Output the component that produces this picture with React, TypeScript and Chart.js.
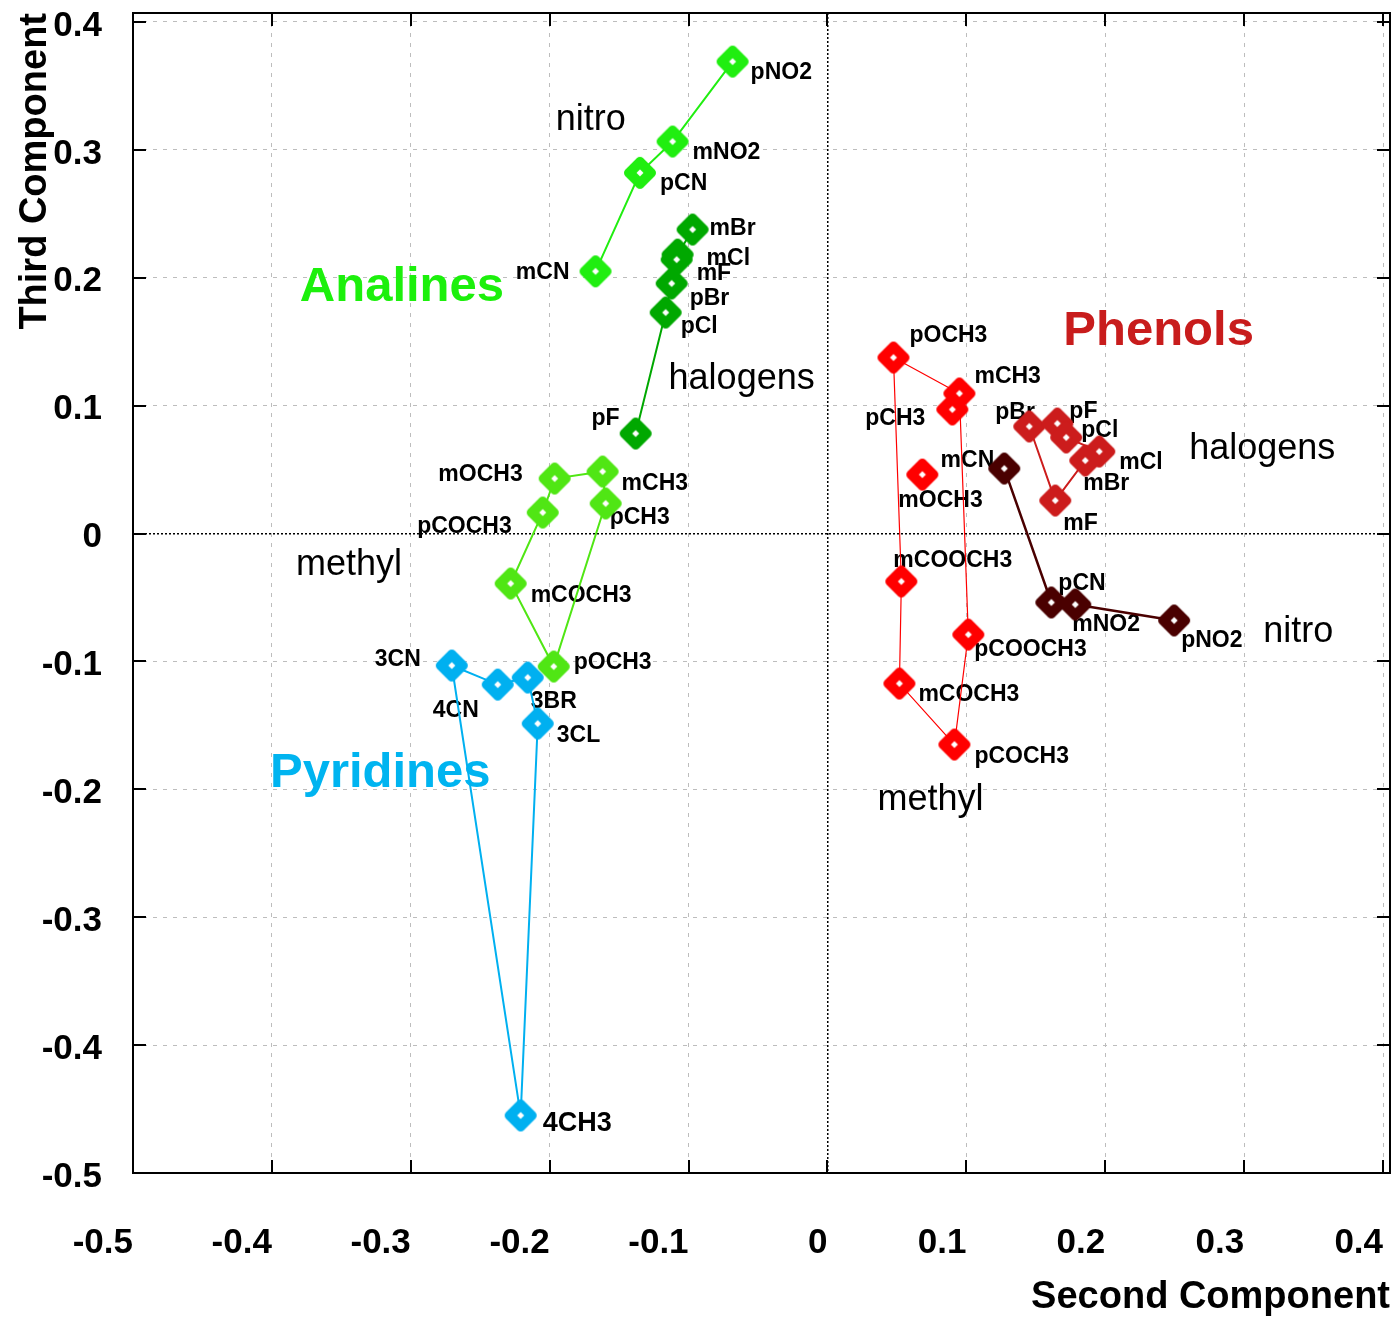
import { useEffect, useRef } from 'react';
import { Chart, registerables } from 'chart.js';

Chart.register(...registerables);

// ---------- axes ----------
const xTickValues = [-0.5, -0.4, -0.3, -0.2, -0.1, 0, 0.1, 0.2, 0.3, 0.4];
const xTickLabels = ['-0.5', '-0.4', '-0.3', '-0.2', '-0.1', '0', '0.1', '0.2', '0.3', '0.4'];
const yTickValues = [-0.5, -0.4, -0.3, -0.2, -0.1, 0, 0.1, 0.2, 0.3, 0.4];
const yTickLabels = ['-0.5', '-0.4', '-0.3', '-0.2', '-0.1', '0', '0.1', '0.2', '0.3', '0.4'];
const xTitle = 'Second Component';
const yTitle = 'Third Component';

// ---------- Anilines: nitro ----------
const anNitroNames = ['pNO2', 'mNO2', 'pCN', 'mCN'];
const anNitroX = [-0.0683, -0.1115, -0.135, -0.167];
const anNitroY = [0.369, 0.3065, 0.282, 0.205];
const anNitroPath = ['mCN', 'pCN', 'mNO2', 'pNO2'];

// ---------- Anilines: halogens ----------
const anHaloNames = ['mBr', 'mCl', 'mF', 'pBr', 'pCl', 'pF'];
const anHaloX = [-0.0971, -0.1079, -0.1086, -0.1122, -0.1165, -0.1381];
const anHaloY = [0.2377, 0.2181, 0.2142, 0.1955, 0.1728, 0.0782];
const anHaloPath = ['pF', 'pCl', 'pBr', 'mF', 'mCl', 'mBr'];

// ---------- Anilines: methyl ----------
const anMethylNames = ['mOCH3', 'mCH3', 'pCOCH3', 'pCH3', 'mCOCH3', 'pOCH3'];
const anMethylX = [-0.1964, -0.1619, -0.205, -0.1597, -0.2281, -0.1971];
const anMethylY = [0.043, 0.0485, 0.0164, 0.0235, -0.0391, -0.104];
const anMethylPath = ['pCH3', 'mCH3', 'mOCH3', 'pCOCH3', 'mCOCH3', 'pOCH3', 'pCH3'];

// ---------- Pyridines ----------
const pyrNames = ['3CN', '4CN', '3BR', '3CL', '4CH3'];
const pyrX = [-0.2705, -0.2374, -0.2158, -0.2086, -0.2209];
const pyrY = [-0.1032, -0.1181, -0.1126, -0.1486, -0.455];
const pyrPath = ['3CN', '4CN', '3BR', '3CL', '4CH3', '3CN'];

// ---------- Phenols: methyl ----------
const phMethylNames = ['pOCH3', 'mCH3', 'pCH3', 'mOCH3', 'mCOOCH3', 'pCOOCH3', 'mCOCH3', 'pCOCH3'];
const phMethylX = [0.0475, 0.095, 0.0899, 0.0683, 0.0532, 0.1014, 0.0518, 0.0914];
const phMethylY = [0.1376, 0.1095, 0.097, 0.0461, -0.0375, -0.079, -0.1173, -0.165];
const phMethylPath = ['pCH3', 'mCH3', 'pCOOCH3', 'pCOCH3', 'mCOCH3', 'mCOOCH3', 'pOCH3', 'mCH3'];

// ---------- Phenols: halogens ----------
const phHaloNames = ['pBr', 'pF', 'pCl', 'mCl', 'mBr', 'mF'];
const phHaloX = [0.1453, 0.1655, 0.1719, 0.1957, 0.1856, 0.164];
const phHaloY = [0.0837, 0.086, 0.0751, 0.0641, 0.0571, 0.0258];
const phHaloPath = ['mCl', 'pCl', 'pF', 'pBr', 'mF', 'mBr', 'mCl'];

// ---------- Phenols: nitro ----------
const phNitroNames = ['mCN', 'pCN', 'mNO2', 'pNO2'];
const phNitroX = [0.1273, 0.1612, 0.1784, 0.2496];
const phNitroY = [0.0508, -0.0539, -0.0555, -0.068];
const phNitroPath = ['mCN', 'pCN', 'mNO2', 'pNO2'];

// ---------- annotations (text placed at data coordinates) ----------
const noteTexts = ['Analines', 'nitro', 'halogens', 'methyl', 'Pyridines', 'Phenols', 'halogens', 'nitro', 'methyl'];
const noteX = [-0.3799, -0.1957, -0.1144, -0.3827, -0.4014, 0.1698, 0.2604, 0.3137, 0.036];
const noteY = [0.1923, 0.3229, 0.1204, -0.025, -0.1876, 0.1579, 0.0657, -0.0774, -0.2088];

// ---------- styles ----------
const FONT = '"Liberation Sans", Arial, Helvetica, sans-serif';
const noteStyles = [
  { font: `bold 49px ${FONT}`, color: '#1cf00c' },
  { font: `36px ${FONT}`, color: '#000' },
  { font: `36px ${FONT}`, color: '#000' },
  { font: `36px ${FONT}`, color: '#000' },
  { font: `bold 49px ${FONT}`, color: '#00b4f0' },
  { font: `bold 49px ${FONT}`, color: '#c81c1c' },
  { font: `36px ${FONT}`, color: '#000' },
  { font: `36px ${FONT}`, color: '#000' },
  { font: `36px ${FONT}`, color: '#000' },
];

type Off = [number, number, 'left' | 'right'];

const groups = [
  {
    names: anNitroNames, xs: anNitroX, ys: anNitroY, path: anNitroPath,
    color: '#20ee10', lineWidth: 2,
    offsets: [[18, 11, 'left'], [20, 11, 'left'], [20, 11, 'left'], [-26, 1, 'right']] as Off[],
  },
  {
    names: anHaloNames, xs: anHaloX, ys: anHaloY, path: anHaloPath,
    color: '#00a800', lineWidth: 2,
    offsets: [[17, -1, 'left'], [29, 4, 'left'], [20, 14, 'left'], [18, 15, 'left'], [15, 14, 'left'], [-16, -15, 'right']] as Off[],
  },
  {
    names: anMethylNames, xs: anMethylX, ys: anMethylY, path: anMethylPath,
    color: '#50e614', lineWidth: 2,
    offsets: [[-32, -4, 'right'], [19, 12, 'left'], [-31, 14, 'right'], [4, 14, 'left'], [20, 12, 'left'], [20, -4, 'left']] as Off[],
  },
  {
    names: pyrNames, xs: pyrX, ys: pyrY, path: pyrPath,
    color: '#00b0f0', lineWidth: 2,
    offsets: [[-31, -6, 'right'], [-19, 26, 'right'], [3, 24, 'left'], [19, 12, 'left'], [22, 8, 'left']] as Off[],
  },
  {
    names: phMethylNames, xs: phMethylX, ys: phMethylY, path: phMethylPath,
    color: '#ff0000', lineWidth: 1.2,
    offsets: [[16, -22, 'left'], [15, -17, 'left'], [-27, 9, 'right'], [-24, 26, 'left'], [-8, -21, 'left'], [6, 15, 'left'], [19, 11, 'left'], [20, 12, 'left']] as Off[],
  },
  {
    names: phHaloNames, xs: phHaloX, ys: phHaloY, path: phHaloPath,
    color: '#cc1c1c', lineWidth: 2,
    offsets: [[-34, -14, 'left'], [12, -12, 'left'], [15, -7, 'left'], [20, 11, 'left'], [-2, 23, 'left'], [8, 23, 'left']] as Off[],
  },
  {
    names: phNitroNames, xs: phNitroX, ys: phNitroY, path: phNitroPath,
    color: '#4a0000', lineWidth: 2.5,
    offsets: [[-10, -8, 'right'], [7, -19, 'left'], [-3, 20, 'left'], [7, 20, 'left']] as Off[],
  },
];

const bigLabels = ['4CH3'];

function makeMarker(color: string): HTMLCanvasElement {
  const c = document.createElement('canvas');
  c.width = 38;
  c.height = 38;
  const g = c.getContext('2d')!;
  g.translate(19, 19);
  const r = 11.5;
  g.beginPath();
  g.moveTo(0, -r);
  g.lineTo(r, 0);
  g.lineTo(0, r);
  g.lineTo(-r, 0);
  g.closePath();
  g.fillStyle = color;
  g.fill();
  g.lineWidth = 9;
  g.lineJoin = 'round';
  g.strokeStyle = color;
  g.stroke();
  const s = 3.5;
  g.beginPath();
  g.moveTo(0, -s);
  g.lineTo(s, 0);
  g.lineTo(0, s);
  g.lineTo(-s, 0);
  g.closePath();
  g.fillStyle = '#ffffff';
  g.fill();
  return c;
}

const zeroPad = (s: any) => {
  s.paddingTop = 0;
  s.paddingBottom = 0;
  s.paddingLeft = 0;
  s.paddingRight = 0;
};

export default function App() {
  const ref = useRef<HTMLCanvasElement | null>(null);

  useEffect(() => {
    document.body.style.margin = '0';
    const canvas = ref.current;
    if (!canvas) return;

    const datasets: any[] = [];
    groups.forEach((gr) => {
      const lineData = gr.path.map((n) => {
        const i = gr.names.indexOf(n);
        return { x: gr.xs[i], y: gr.ys[i] };
      });
      datasets.push({
        data: lineData,
        showLine: true,
        borderColor: gr.color,
        borderWidth: gr.lineWidth,
        pointRadius: 0,
        pointHoverRadius: 0,
        pointBorderWidth: 0,
        fill: false,
        clip: false,
        order: 10,
      });
    });
    groups.forEach((gr) => {
      datasets.push({
        data: gr.names.map((_, i) => ({ x: gr.xs[i], y: gr.ys[i] })),
        showLine: false,
        pointStyle: makeMarker(gr.color),
        pointRadius: 1,
        pointHoverRadius: 1,
        pointBorderWidth: 0,
        borderWidth: 0,
        borderColor: gr.color,
        backgroundColor: gr.color,
        clip: false,
        order: 0,
      });
    });

    const textPlugin = {
      id: 'texts',
      beforeDatasetsDraw(chart: any) {
        const ctx = chart.ctx;
        const xs = chart.scales.x;
        const ys = chart.scales.y;
        ctx.save();
        ctx.textBaseline = 'middle';
        noteTexts.forEach((t, i) => {
          ctx.font = noteStyles[i].font;
          ctx.fillStyle = noteStyles[i].color;
          ctx.textAlign = 'left';
          ctx.fillText(t, xs.getPixelForValue(noteX[i]), ys.getPixelForValue(noteY[i]));
        });
        ctx.fillStyle = '#000';
        groups.forEach((gr) => {
          gr.names.forEach((n, i) => {
            const px = xs.getPixelForValue(gr.xs[i]);
            const py = ys.getPixelForValue(gr.ys[i]);
            const [dx, dy, al] = gr.offsets[i];
            ctx.font = bigLabels.includes(n) ? `bold 27px ${FONT}` : `bold 23px ${FONT}`;
            ctx.textAlign = al;
            ctx.fillText(n, px + dx, py + dy);
          });
        });
        ctx.restore();
      },
    };

    const framePlugin = {
      id: 'frame',
      afterDraw(chart: any) {
        const ctx = chart.ctx;
        const { left, right, top, bottom } = chart.chartArea;
        const xs = chart.scales.x;
        const ys = chart.scales.y;
        ctx.save();
        ctx.strokeStyle = '#000';
        ctx.lineWidth = 2;
        ctx.beginPath();
        xTickValues.forEach((v) => {
          const p = Math.round(xs.getPixelForValue(v));
          ctx.moveTo(p, bottom);
          ctx.lineTo(p, bottom - 13);
          ctx.moveTo(p, top);
          ctx.lineTo(p, top + 13);
        });
        yTickValues.forEach((v) => {
          const p = Math.round(ys.getPixelForValue(v));
          ctx.moveTo(left, p);
          ctx.lineTo(left + 13, p);
          ctx.moveTo(right, p);
          ctx.lineTo(right - 13, p);
        });
        ctx.stroke();
        ctx.strokeRect(left, top, right - left, bottom - top);
        ctx.restore();
      },
    };

    const gridColor = (c: any) => (c.tick && c.tick.value === 0 ? '#000000' : '#bdbdbd');
    const gridWidth = (c: any) => (c.tick && c.tick.value === 0 ? 1.5 : 1);
    const gridDash = (c: any) => (c.tick && c.tick.value === 0 ? [2, 2] : [4, 6]);

    const chart = new Chart(canvas, {
      type: 'scatter',
      data: { datasets },
      plugins: [textPlugin, framePlugin],
      options: {
        animation: false,
        responsive: false,
        layout: { padding: { left: 0, top: 13, right: 7, bottom: 0 } },
        plugins: { legend: { display: false }, tooltip: { enabled: false } },
        events: [],
        scales: {
          x: {
            type: 'linear',
            min: -0.5,
            max: 0.405,
            afterBuildTicks: (s: any) => {
              s.ticks = xTickValues.map((v) => ({ value: v }));
            },
            afterFit: (s: any) => {
              s.height = 148;
              zeroPad(s);
            },
            ticks: {
              autoSkip: false,
              maxRotation: 0,
              align: 'end',
              padding: 49,
              color: '#000',
              font: { family: FONT, size: 35, weight: 'bold' },
              callback: (_v: any, i: number) => xTickLabels[i],
            },
            grid: { color: gridColor, lineWidth: gridWidth, drawTicks: false },
            border: { display: false, dash: gridDash },
            title: {
              display: true,
              text: xTitle,
              align: 'end',
              color: '#000',
              font: { family: FONT, size: 38, weight: 'bold' },
              padding: { top: 0, bottom: 1 },
            },
          },
          y: {
            type: 'linear',
            min: -0.5,
            max: 0.407,
            afterBuildTicks: (s: any) => {
              s.ticks = yTickValues.map((v) => ({ value: v }));
            },
            afterFit: (s: any) => {
              s.width = 133;
              zeroPad(s);
            },
            ticks: {
              autoSkip: false,
              padding: 31,
              labelOffset: 4,
              color: '#000',
              font: { family: FONT, size: 35, weight: 'bold' },
              callback: (_v: any, i: number) => yTickLabels[i],
            },
            grid: { color: gridColor, lineWidth: gridWidth, drawTicks: false },
            border: { display: false, dash: gridDash },
            title: {
              display: true,
              text: yTitle,
              align: 'end',
              color: '#000',
              font: { family: FONT, size: 38, weight: 'bold' },
              padding: { top: 13, bottom: 0 },
            },
          },
        },
      } as any,
    });

    return () => chart.destroy();
  }, []);

  return (
    <div style={{ width: 1397, height: 1321, background: '#fff' }}>
      <canvas ref={ref} width={1397} height={1321} style={{ display: 'block' }} />
    </div>
  );
}
